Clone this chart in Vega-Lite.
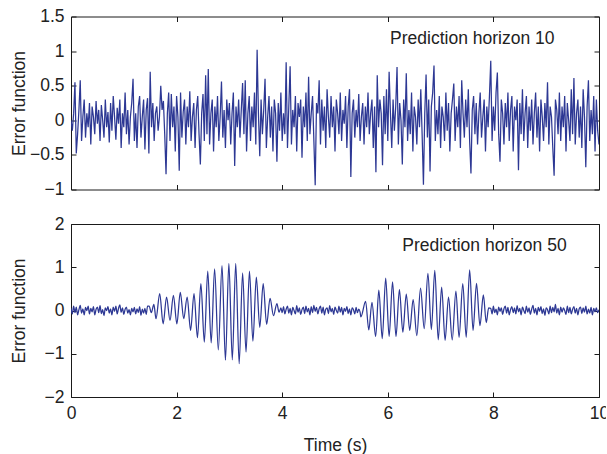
{
"$schema": "https://vega.github.io/schema/vega-lite/v6.json",
"padding": {"left": 10, "top": 7.5, "right": -3, "bottom": 2},
"bounds": "flush",
"spacing": 34.5,
"background": "white",
"config": {
  "font": "Liberation Sans",
  "view": {"stroke": null},
  "axis": {"domainColor": "#1a1a1a", "tickColor": "#1a1a1a", "labelColor": "#222", "titleColor": "#222", "labelFontSize": 17.5, "titleFontSize": 17.5, "labelFont": "Liberation Sans", "titleFont": "Liberation Sans", "titleFontWeight": "normal", "grid": false, "tickSize": -5, "domainWidth": 1, "tickWidth": 1, "labelFlush": false, "format": "~f"}
},
"datasets": {
"top": [
{"t":0,"e":0.0},{"t":0.025,"e":-0.15},{"t":0.05,"e":0.1},{"t":0.075,"e":0.55},{"t":0.1,"e":-0.48},{"t":0.125,"e":-0.2},{"t":0.15,"e":0.15},{"t":0.175,"e":0.58},{"t":0.2,"e":-0.3},{"t":0.225,"e":0.05},
{"t":0.25,"e":0.3},{"t":0.275,"e":-0.25},{"t":0.3,"e":0.1},{"t":0.325,"e":-0.1},{"t":0.35,"e":0.25},{"t":0.375,"e":-0.35},{"t":0.4,"e":0.2},{"t":0.425,"e":0.05},{"t":0.45,"e":-0.2},{"t":0.475,"e":0.28},
{"t":0.5,"e":-0.05},{"t":0.525,"e":0.15},{"t":0.55,"e":-0.3},{"t":0.575,"e":0.22},{"t":0.6,"e":0.0},{"t":0.625,"e":-0.25},{"t":0.65,"e":0.3},{"t":0.675,"e":-0.1},{"t":0.7,"e":0.12},{"t":0.725,"e":-0.32},
{"t":0.75,"e":0.25},{"t":0.775,"e":-0.15},{"t":0.8,"e":0.35},{"t":0.825,"e":0.05},{"t":0.85,"e":-0.28},{"t":0.875,"e":0.18},{"t":0.9,"e":-0.05},{"t":0.925,"e":0.3},{"t":0.95,"e":-0.4},{"t":0.975,"e":0.1},
{"t":1.0,"e":-0.1},{"t":1.025,"e":0.4},{"t":1.05,"e":-0.2},{"t":1.075,"e":0.15},{"t":1.1,"e":-0.35},{"t":1.125,"e":0.05},{"t":1.15,"e":0.25},{"t":1.175,"e":0.6},{"t":1.2,"e":-0.3},{"t":1.225,"e":0.1},
{"t":1.25,"e":-0.4},{"t":1.275,"e":0.2},{"t":1.3,"e":0.35},{"t":1.325,"e":-0.25},{"t":1.35,"e":0.05},{"t":1.375,"e":0.3},{"t":1.4,"e":-0.42},{"t":1.425,"e":0.15},{"t":1.45,"e":0.32},{"t":1.475,"e":-0.48},
{"t":1.5,"e":0.7},{"t":1.525,"e":-0.1},{"t":1.55,"e":0.25},{"t":1.575,"e":-0.3},{"t":1.6,"e":0.1},{"t":1.625,"e":0.2},{"t":1.65,"e":-0.15},{"t":1.675,"e":0.05},{"t":1.7,"e":0.5},{"t":1.725,"e":0.15},
{"t":1.75,"e":0.28},{"t":1.775,"e":-0.2},{"t":1.8,"e":-0.78},{"t":1.825,"e":0.1},{"t":1.85,"e":0.4},{"t":1.875,"e":-0.3},{"t":1.9,"e":0.38},{"t":1.925,"e":-0.1},{"t":1.95,"e":0.2},{"t":1.975,"e":-0.45},
{"t":2.0,"e":0.35},{"t":2.025,"e":0.05},{"t":2.05,"e":-0.73},{"t":2.075,"e":0.4},{"t":2.1,"e":-0.25},{"t":2.125,"e":0.12},{"t":2.15,"e":0.3},{"t":2.175,"e":-0.35},{"t":2.2,"e":0.2},{"t":2.225,"e":-0.1},
{"t":2.25,"e":0.42},{"t":2.275,"e":-0.3},{"t":2.3,"e":0.05},{"t":2.325,"e":0.25},{"t":2.35,"e":-0.4},{"t":2.375,"e":0.15},{"t":2.4,"e":0.35},{"t":2.425,"e":-0.2},{"t":2.45,"e":-0.64},{"t":2.475,"e":0.1},
{"t":2.5,"e":0.38},{"t":2.525,"e":-0.3},{"t":2.55,"e":0.65},{"t":2.575,"e":-0.2},{"t":2.6,"e":0.74},{"t":2.625,"e":-0.35},{"t":2.65,"e":0.1},{"t":2.675,"e":0.3},{"t":2.7,"e":-0.45},{"t":2.725,"e":0.2},
{"t":2.75,"e":-0.1},{"t":2.775,"e":0.35},{"t":2.8,"e":-0.3},{"t":2.825,"e":0.05},{"t":2.85,"e":0.56},{"t":2.875,"e":-0.25},{"t":2.9,"e":0.15},{"t":2.925,"e":-0.4},{"t":2.95,"e":0.3},{"t":2.975,"e":0.0},
{"t":3.0,"e":0.25},{"t":3.025,"e":-0.35},{"t":3.05,"e":0.1},{"t":3.075,"e":0.4},{"t":3.1,"e":-0.66},{"t":3.125,"e":0.2},{"t":3.15,"e":-0.1},{"t":3.175,"e":0.3},{"t":3.2,"e":-0.25},{"t":3.225,"e":0.15},
{"t":3.25,"e":0.54},{"t":3.275,"e":-0.2},{"t":3.3,"e":0.58},{"t":3.325,"e":-0.45},{"t":3.35,"e":0.1},{"t":3.375,"e":0.35},{"t":3.4,"e":-0.3},{"t":3.425,"e":0.2},{"t":3.45,"e":-0.1},{"t":3.475,"e":0.4},
{"t":3.5,"e":-0.35},{"t":3.525,"e":1.02},{"t":3.55,"e":0.1},{"t":3.575,"e":-0.52},{"t":3.6,"e":0.3},{"t":3.625,"e":-0.2},{"t":3.65,"e":0.15},{"t":3.675,"e":0.6},{"t":3.7,"e":-0.4},{"t":3.725,"e":0.05},
{"t":3.75,"e":0.35},{"t":3.775,"e":-0.25},{"t":3.8,"e":0.2},{"t":3.825,"e":-0.45},{"t":3.85,"e":0.3},{"t":3.875,"e":0.1},{"t":3.9,"e":-0.6},{"t":3.925,"e":0.25},{"t":3.95,"e":-0.15},{"t":3.975,"e":0.4},
{"t":4.0,"e":-0.3},{"t":4.025,"e":0.1},{"t":4.05,"e":-0.2},{"t":4.075,"e":0.84},{"t":4.1,"e":-0.4},{"t":4.125,"e":0.2},{"t":4.15,"e":0.78},{"t":4.175,"e":-0.35},{"t":4.2,"e":0.15},{"t":4.225,"e":-0.1},
{"t":4.25,"e":0.35},{"t":4.275,"e":-0.45},{"t":4.3,"e":0.25},{"t":4.325,"e":0.05},{"t":4.35,"e":0.3},{"t":4.375,"e":-0.54},{"t":4.4,"e":0.2},{"t":4.425,"e":-0.1},{"t":4.45,"e":0.4},{"t":4.475,"e":-0.3},
{"t":4.5,"e":0.63},{"t":4.525,"e":-0.2},{"t":4.55,"e":0.1},{"t":4.575,"e":0.35},{"t":4.6,"e":-0.3},{"t":4.625,"e":-0.94},{"t":4.65,"e":0.25},{"t":4.675,"e":0.1},{"t":4.7,"e":0.58},{"t":4.725,"e":-0.35},
{"t":4.75,"e":0.3},{"t":4.775,"e":-0.15},{"t":4.8,"e":0.2},{"t":4.825,"e":-0.4},{"t":4.85,"e":0.45},{"t":4.875,"e":0.05},{"t":4.9,"e":-0.25},{"t":4.925,"e":0.35},{"t":4.95,"e":-0.1},{"t":4.975,"e":0.2},
{"t":5.0,"e":-0.45},{"t":5.025,"e":0.3},{"t":5.05,"e":0.1},{"t":5.075,"e":-0.2},{"t":5.1,"e":0.4},{"t":5.125,"e":-0.3},{"t":5.15,"e":0.15},{"t":5.175,"e":-0.05},{"t":5.2,"e":0.35},{"t":5.225,"e":-0.4},
{"t":5.25,"e":0.2},{"t":5.275,"e":0.45},{"t":5.3,"e":-0.82},{"t":5.325,"e":0.1},{"t":5.35,"e":0.3},{"t":5.375,"e":-0.25},{"t":5.4,"e":0.15},{"t":5.425,"e":-0.1},{"t":5.45,"e":0.38},{"t":5.475,"e":-0.3},
{"t":5.5,"e":0.05},{"t":5.525,"e":0.25},{"t":5.55,"e":-0.35},{"t":5.575,"e":0.2},{"t":5.6,"e":-0.1},{"t":5.625,"e":0.4},{"t":5.65,"e":-0.2},{"t":5.675,"e":0.1},{"t":5.7,"e":0.3},{"t":5.725,"e":-0.4},
{"t":5.75,"e":0.2},{"t":5.775,"e":-0.75},{"t":5.8,"e":0.65},{"t":5.825,"e":-0.1},{"t":5.85,"e":0.3},{"t":5.875,"e":0.1},{"t":5.9,"e":-0.65},{"t":5.925,"e":0.35},{"t":5.95,"e":-0.2},{"t":5.975,"e":0.45},
{"t":6.0,"e":-0.3},{"t":6.025,"e":0.7},{"t":6.05,"e":0.1},{"t":6.075,"e":-0.4},{"t":6.1,"e":0.3},{"t":6.125,"e":-0.15},{"t":6.15,"e":0.2},{"t":6.175,"e":0.77},{"t":6.2,"e":-0.35},{"t":6.225,"e":0.25},
{"t":6.25,"e":0.0},{"t":6.275,"e":-0.64},{"t":6.3,"e":0.3},{"t":6.325,"e":-0.1},{"t":6.35,"e":0.68},{"t":6.375,"e":-0.3},{"t":6.4,"e":0.15},{"t":6.425,"e":-0.2},{"t":6.45,"e":0.4},{"t":6.475,"e":-0.45},
{"t":6.5,"e":0.2},{"t":6.525,"e":0.05},{"t":6.55,"e":-0.35},{"t":6.575,"e":0.3},{"t":6.6,"e":-0.1},{"t":6.625,"e":0.45},{"t":6.65,"e":-0.2},{"t":6.675,"e":-0.93},{"t":6.7,"e":0.1},{"t":6.725,"e":0.66},
{"t":6.75,"e":-0.25},{"t":6.775,"e":0.3},{"t":6.8,"e":-0.74},{"t":6.825,"e":0.2},{"t":6.85,"e":0.4},{"t":6.875,"e":0.79},{"t":6.9,"e":-0.3},{"t":6.925,"e":0.15},{"t":6.95,"e":-0.2},{"t":6.975,"e":0.35},
{"t":7.0,"e":-0.4},{"t":7.025,"e":0.2},{"t":7.05,"e":0.05},{"t":7.075,"e":-0.3},{"t":7.1,"e":0.4},{"t":7.125,"e":-0.15},{"t":7.15,"e":0.25},{"t":7.175,"e":-0.45},{"t":7.2,"e":0.1},{"t":7.225,"e":0.3},
{"t":7.25,"e":0.53},{"t":7.275,"e":-0.3},{"t":7.3,"e":0.2},{"t":7.325,"e":-0.1},{"t":7.35,"e":0.35},{"t":7.375,"e":-0.4},{"t":7.4,"e":0.58},{"t":7.425,"e":0.1},{"t":7.45,"e":-0.25},{"t":7.475,"e":0.3},
{"t":7.5,"e":-0.1},{"t":7.525,"e":0.45},{"t":7.55,"e":-0.3},{"t":7.575,"e":-0.77},{"t":7.6,"e":0.15},{"t":7.625,"e":0.35},{"t":7.65,"e":-0.2},{"t":7.675,"e":0.25},{"t":7.7,"e":-0.35},{"t":7.725,"e":0.1},
{"t":7.75,"e":0.4},{"t":7.775,"e":-0.25},{"t":7.8,"e":0.05},{"t":7.825,"e":0.3},{"t":7.85,"e":-0.45},{"t":7.875,"e":0.2},{"t":7.9,"e":-0.1},{"t":7.925,"e":0.35},{"t":7.95,"e":0.86},{"t":7.975,"e":-0.3},
{"t":8.0,"e":0.2},{"t":8.025,"e":-0.15},{"t":8.05,"e":0.4},{"t":8.075,"e":0.69},{"t":8.1,"e":-0.2},{"t":8.125,"e":-0.6},{"t":8.15,"e":0.3},{"t":8.175,"e":0.1},{"t":8.2,"e":-0.35},{"t":8.225,"e":0.25},
{"t":8.25,"e":-0.1},{"t":8.275,"e":0.4},{"t":8.3,"e":-0.3},{"t":8.325,"e":0.15},{"t":8.35,"e":0.35},{"t":8.375,"e":-0.45},{"t":8.4,"e":0.2},{"t":8.425,"e":0.0},{"t":8.45,"e":0.3},{"t":8.475,"e":-0.72},
{"t":8.5,"e":0.25},{"t":8.525,"e":-0.2},{"t":8.55,"e":0.45},{"t":8.575,"e":-0.3},{"t":8.6,"e":0.1},{"t":8.625,"e":0.35},{"t":8.65,"e":-0.4},{"t":8.675,"e":0.2},{"t":8.7,"e":-0.15},{"t":8.725,"e":0.3},
{"t":8.75,"e":-0.35},{"t":8.775,"e":0.1},{"t":8.8,"e":0.4},{"t":8.825,"e":-0.25},{"t":8.85,"e":0.2},{"t":8.875,"e":-0.45},{"t":8.9,"e":0.3},{"t":8.925,"e":0.05},{"t":8.95,"e":-0.3},{"t":8.975,"e":0.25},
{"t":9.0,"e":-0.1},{"t":9.025,"e":0.55},{"t":9.05,"e":-0.35},{"t":9.075,"e":0.2},{"t":9.1,"e":0.05},{"t":9.125,"e":-0.4},{"t":9.15,"e":-0.8},{"t":9.175,"e":0.3},{"t":9.2,"e":0.15},{"t":9.225,"e":-0.2},
{"t":9.25,"e":0.4},{"t":9.275,"e":-0.3},{"t":9.3,"e":0.2},{"t":9.325,"e":-0.1},{"t":9.35,"e":0.35},{"t":9.375,"e":-0.45},{"t":9.4,"e":0.25},{"t":9.425,"e":0.0},{"t":9.45,"e":-0.3},{"t":9.475,"e":0.45},
{"t":9.5,"e":-0.2},{"t":9.525,"e":0.61},{"t":9.55,"e":-0.35},{"t":9.575,"e":0.1},{"t":9.6,"e":0.3},{"t":9.625,"e":-0.25},{"t":9.65,"e":0.2},{"t":9.675,"e":-0.4},{"t":9.7,"e":0.45},{"t":9.725,"e":0.05},
{"t":9.75,"e":-0.68},{"t":9.775,"e":0.2},{"t":9.8,"e":0.58},{"t":9.825,"e":-0.3},{"t":9.85,"e":0.15},{"t":9.875,"e":-0.2},{"t":9.9,"e":0.35},{"t":9.925,"e":-0.45},{"t":9.95,"e":0.3},{"t":9.975,"e":-0.15},
{"t":10.0,"e":-0.35}
],
"bot": [
{"t":0,"e":0.05},{"t":0.025,"e":-0.08},{"t":0.05,"e":0.1},{"t":0.075,"e":-0.05},{"t":0.1,"e":0.08},{"t":0.125,"e":-0.1},{"t":0.15,"e":0.02},{"t":0.175,"e":0.12},{"t":0.2,"e":-0.06},{"t":0.225,"e":0.04},
{"t":0.25,"e":-0.1},{"t":0.275,"e":0.07},{"t":0.3,"e":0.0},{"t":0.325,"e":0.1},{"t":0.35,"e":-0.08},{"t":0.375,"e":0.05},{"t":0.4,"e":-0.03},{"t":0.425,"e":0.09},{"t":0.45,"e":-0.1},{"t":0.475,"e":0.03},
{"t":0.5,"e":0.08},{"t":0.525,"e":-0.05},{"t":0.55,"e":0.11},{"t":0.575,"e":-0.07},{"t":0.6,"e":0.02},{"t":0.625,"e":-0.12},{"t":0.65,"e":0.06},{"t":0.675,"e":0.0},{"t":0.7,"e":0.09},{"t":0.725,"e":-0.06},
{"t":0.75,"e":0.04},{"t":0.775,"e":-0.1},{"t":0.8,"e":0.08},{"t":0.825,"e":-0.02},{"t":0.85,"e":0.1},{"t":0.875,"e":-0.08},{"t":0.9,"e":0.05},{"t":0.925,"e":0.13},{"t":0.95,"e":-0.04},{"t":0.975,"e":0.06},
{"t":1.0,"e":-0.09},{"t":1.025,"e":0.03},{"t":1.05,"e":0.08},{"t":1.075,"e":-0.06},{"t":1.1,"e":0.02},{"t":1.125,"e":-0.1},{"t":1.15,"e":0.05},{"t":1.175,"e":-0.03},{"t":1.2,"e":0.07},{"t":1.225,"e":-0.08},
{"t":1.25,"e":0.04},{"t":1.275,"e":-0.05},{"t":1.3,"e":0.09},{"t":1.325,"e":-0.11},{"t":1.35,"e":0.03},{"t":1.375,"e":-0.06},{"t":1.4,"e":0.05},{"t":1.425,"e":-0.09},{"t":1.45,"e":0.1},
{"t":1.48,"e":0.1},{"t":1.52,"e":-0.05},{"t":1.57,"e":0.14},{"t":1.61,"e":-0.19},
{"t":1.68,"e":0.39},{"t":1.745,"e":-0.31},{"t":1.81,"e":0.31},{"t":1.875,"e":-0.23},{"t":1.94,"e":0.35},{"t":2.005,"e":-0.31},{"t":2.07,"e":0.42},{"t":2.135,"e":-0.19},{"t":2.2,"e":0.31},{"t":2.265,"e":-0.46},
{"t":2.33,"e":0.39},{"t":2.395,"e":-0.63},{"t":2.46,"e":0.62},{"t":2.525,"e":-0.73},{"t":2.59,"e":0.91},{"t":2.655,"e":-0.75},{"t":2.72,"e":0.96},{"t":2.79,"e":-0.91},{"t":2.86,"e":1.04},{"t":2.925,"e":-1.15},
{"t":2.99,"e":1.09},{"t":3.055,"e":-1.14},{"t":3.12,"e":1.09},{"t":3.185,"e":-1.23},{"t":3.25,"e":0.87},{"t":3.315,"e":-0.96},{"t":3.38,"e":0.91},{"t":3.445,"e":-0.71},{"t":3.51,"e":0.77},{"t":3.575,"e":-0.39},
{"t":3.64,"e":0.62},{"t":3.705,"e":-0.32},{"t":3.77,"e":0.28},{"t":3.835,"e":-0.12},{"t":3.9,"e":0.16},{"t":3.94,"e":-0.04},
{"t":3.975,"e":0.06},{"t":4.0,"e":-0.05},{"t":4.025,"e":0.09},{"t":4.05,"e":-0.08},{"t":4.075,"e":0.03},{"t":4.1,"e":0.1},{"t":4.125,"e":-0.06},{"t":4.15,"e":0.05},{"t":4.175,"e":-0.1},{"t":4.2,"e":0.07},
{"t":4.225,"e":0.0},{"t":4.25,"e":-0.08},{"t":4.275,"e":0.11},{"t":4.3,"e":-0.04},{"t":4.325,"e":0.06},{"t":4.35,"e":-0.09},{"t":4.375,"e":0.02},{"t":4.4,"e":0.08},{"t":4.425,"e":-0.07},{"t":4.45,"e":0.1},
{"t":4.475,"e":-0.03},{"t":4.5,"e":0.05},{"t":4.525,"e":-0.1},{"t":4.55,"e":0.09},{"t":4.575,"e":-0.05},{"t":4.6,"e":0.12},{"t":4.625,"e":-0.02},{"t":4.65,"e":0.07},{"t":4.675,"e":-0.08},{"t":4.7,"e":0.04},
{"t":4.725,"e":0.1},{"t":4.75,"e":-0.06},{"t":4.775,"e":0.08},{"t":4.8,"e":-0.1},{"t":4.825,"e":0.03},{"t":4.85,"e":0.06},{"t":4.875,"e":-0.07},{"t":4.9,"e":0.11},{"t":4.925,"e":-0.03},{"t":4.95,"e":0.05},
{"t":4.975,"e":-0.09},{"t":5.0,"e":0.08},{"t":5.025,"e":0.0},{"t":5.05,"e":-0.06},{"t":5.075,"e":0.1},{"t":5.1,"e":-0.04},{"t":5.125,"e":0.07},{"t":5.15,"e":-0.1},{"t":5.175,"e":0.05},{"t":5.2,"e":-0.02},
{"t":5.225,"e":0.09},{"t":5.25,"e":-0.07},{"t":5.275,"e":0.04},{"t":5.3,"e":-0.1},{"t":5.325,"e":0.06},{"t":5.35,"e":0.02},{"t":5.375,"e":-0.08},{"t":5.4,"e":0.07},{"t":5.425,"e":-0.05},{"t":5.45,"e":0.03},{"t":5.475,"e":-0.04},
{"t":5.49,"e":-0.15},{"t":5.58,"e":0.21},{"t":5.64,"e":-0.45},{"t":5.7,"e":0.19},{"t":5.77,"e":-0.6},{"t":5.83,"e":0.47},{"t":5.895,"e":-0.65},{"t":5.96,"e":0.75},{"t":6.025,"e":-0.6},{"t":6.09,"e":0.66},
{"t":6.155,"e":-0.6},{"t":6.22,"e":0.48},{"t":6.285,"e":-0.5},{"t":6.35,"e":0.38},{"t":6.415,"e":-0.46},{"t":6.48,"e":0.25},{"t":6.55,"e":-0.58},{"t":6.62,"e":0.52},{"t":6.69,"e":-0.42},{"t":6.76,"e":0.86},
{"t":6.825,"e":-0.44},{"t":6.89,"e":0.93},{"t":6.955,"e":-0.68},{"t":7.02,"e":0.54},{"t":7.085,"e":-0.69},{"t":7.15,"e":0.31},{"t":7.22,"e":-0.68},{"t":7.29,"e":0.45},{"t":7.35,"e":-0.62},{"t":7.42,"e":0.62},
{"t":7.485,"e":-0.62},{"t":7.55,"e":0.94},{"t":7.615,"e":-0.46},{"t":7.68,"e":0.63},{"t":7.745,"e":-0.35},{"t":7.81,"e":0.36},{"t":7.865,"e":-0.28},{"t":7.91,"e":0.06},
{"t":7.95,"e":0.05},{"t":7.975,"e":-0.08},{"t":8.0,"e":0.1},{"t":8.025,"e":-0.05},{"t":8.05,"e":0.03},{"t":8.075,"e":-0.1},{"t":8.1,"e":0.08},{"t":8.125,"e":-0.02},{"t":8.15,"e":0.06},{"t":8.175,"e":-0.09},
{"t":8.2,"e":0.04},{"t":8.225,"e":0.1},{"t":8.25,"e":-0.06},{"t":8.275,"e":0.07},{"t":8.3,"e":-0.1},{"t":8.325,"e":0.02},{"t":8.35,"e":0.09},{"t":8.375,"e":-0.05},{"t":8.4,"e":0.06},{"t":8.425,"e":-0.08},
{"t":8.45,"e":0.11},{"t":8.475,"e":-0.03},{"t":8.5,"e":0.05},{"t":8.525,"e":-0.1},{"t":8.55,"e":0.08},{"t":8.575,"e":0.0},{"t":8.6,"e":-0.07},{"t":8.625,"e":0.1},{"t":8.65,"e":-0.04},{"t":8.675,"e":0.06},
{"t":8.7,"e":-0.09},{"t":8.725,"e":0.03},{"t":8.75,"e":0.12},{"t":8.775,"e":-0.06},{"t":8.8,"e":0.05},{"t":8.825,"e":-0.1},{"t":8.85,"e":0.07},{"t":8.875,"e":-0.02},{"t":8.9,"e":0.09},{"t":8.925,"e":-0.07},
{"t":8.95,"e":0.04},{"t":8.975,"e":-0.11},{"t":9.0,"e":0.06},{"t":9.025,"e":0.02},{"t":9.05,"e":-0.08},{"t":9.075,"e":0.1},{"t":9.1,"e":-0.05},{"t":9.125,"e":0.07},{"t":9.15,"e":-0.03},{"t":9.175,"e":0.14},
{"t":9.2,"e":-0.06},{"t":9.225,"e":0.05},{"t":9.25,"e":-0.1},{"t":9.275,"e":0.08},{"t":9.3,"e":-0.04},{"t":9.325,"e":0.06},{"t":9.35,"e":0.0},{"t":9.375,"e":-0.09},{"t":9.4,"e":0.1},{"t":9.425,"e":-0.05},
{"t":9.45,"e":0.07},{"t":9.475,"e":-0.08},{"t":9.5,"e":0.03},{"t":9.525,"e":0.09},{"t":9.55,"e":-0.06},{"t":9.575,"e":0.05},{"t":9.6,"e":-0.1},{"t":9.625,"e":0.04},{"t":9.65,"e":0.08},{"t":9.675,"e":-0.07},
{"t":9.7,"e":0.06},{"t":9.725,"e":-0.04},{"t":9.75,"e":0.1},{"t":9.775,"e":-0.08},{"t":9.8,"e":0.03},{"t":9.825,"e":-0.06},{"t":9.85,"e":0.07},{"t":9.875,"e":-0.1},{"t":9.9,"e":0.05},{"t":9.925,"e":-0.03},
{"t":9.95,"e":0.06},{"t":9.975,"e":-0.05},{"t":10.0,"e":0.02}
]
},
"vconcat": [
{
 "width": 528, "height": 173,
 "layer": [
  {"data": {"name": "top"},
   "mark": {"type": "line", "color": "#2d3894", "strokeWidth": 1.25, "clip": true},
   "encoding": {
    "x": {"field": "t", "type": "quantitative", "scale": {"domain": [0, 10], "nice": false}, "axis": {"orient": "bottom", "values": [0, 2, 4, 6, 8, 10], "labels": false, "title": null}},
    "y": {"field": "e", "type": "quantitative", "scale": {"domain": [-1, 1.5], "nice": false}, "axis": {"orient": "left", "values": [-1, -0.5, 0, 0.5, 1, 1.5], "title": "Error function", "labelPadding": 12, "titleBaseline": "alphabetic", "titleX": -47, "titleY": 86.5}}
   }},
  {"data": {"name": "top"},
   "mark": {"type": "line", "opacity": 0},
   "encoding": {
    "x": {"field": "t", "type": "quantitative", "axis": {"orient": "top", "values": [0, 2, 4, 6, 8, 10], "labels": false, "title": null}},
    "y": {"field": "e", "type": "quantitative", "axis": {"orient": "right", "values": [-1, -0.5, 0, 0.5, 1, 1.5], "labels": false, "title": null}}
   }},
  {"data": {"values": [{}]},
   "mark": {"type": "text", "fontSize": 17.5, "color": "#222", "align": "center", "baseline": "alphabetic", "font": "Liberation Sans"},
   "encoding": {
    "x": {"datum": 7.6, "type": "quantitative", "axis": null},
    "y": {"datum": 1.105, "type": "quantitative", "axis": null},
    "text": {"value": "Prediction horizon 10"}
   }}
 ],
 "resolve": {"axis": {"x": "independent", "y": "independent"}}
},
{
 "width": 528, "height": 173,
 "layer": [
  {"data": {"name": "bot"},
   "mark": {"type": "line", "color": "#2d3894", "strokeWidth": 1.25, "interpolate": "monotone", "clip": true},
   "encoding": {
    "x": {"field": "t", "type": "quantitative", "scale": {"domain": [0, 10], "nice": false}, "axis": {"orient": "bottom", "values": [0, 2, 4, 6, 8, 10], "title": "Time (s)", "labelPadding": 12, "titleBaseline": "alphabetic", "titleY": 53.5}},
    "y": {"field": "e", "type": "quantitative", "scale": {"domain": [-2, 2], "nice": false}, "axis": {"orient": "left", "values": [-2, -1, 0, 1, 2], "title": "Error function", "labelPadding": 12, "titleBaseline": "alphabetic", "titleX": -47, "titleY": 86.5}}
   }},
  {"data": {"name": "bot"},
   "mark": {"type": "line", "opacity": 0},
   "encoding": {
    "x": {"field": "t", "type": "quantitative", "axis": {"orient": "top", "values": [0, 2, 4, 6, 8, 10], "labels": false, "title": null}},
    "y": {"field": "e", "type": "quantitative", "axis": {"orient": "right", "values": [-2, -1, 0, 1, 2], "labels": false, "title": null}}
   }},
  {"data": {"values": [{}]},
   "mark": {"type": "text", "fontSize": 17.5, "color": "#222", "align": "center", "baseline": "alphabetic", "font": "Liberation Sans"},
   "encoding": {
    "x": {"datum": 7.83, "type": "quantitative", "axis": null},
    "y": {"datum": 1.37, "type": "quantitative", "axis": null},
    "text": {"value": "Prediction horizon 50"}
   }}
 ],
 "resolve": {"axis": {"x": "independent", "y": "independent"}}
}
]
}
